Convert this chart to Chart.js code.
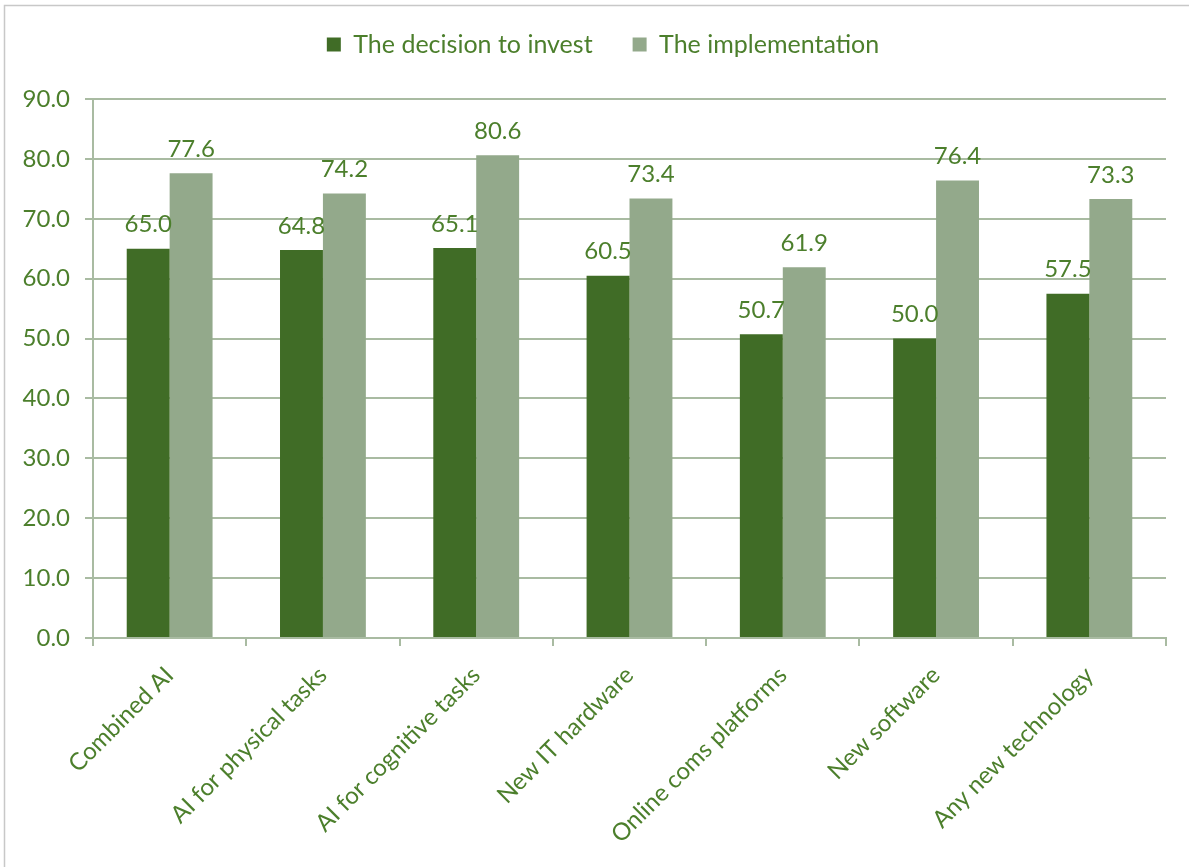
<!DOCTYPE html>
<html>
<head>
<meta charset="utf-8">
<title>Technology adoption</title>
<script src="https://cdn.jsdelivr.net/npm/chart.js@4/dist/chart.umd.min.js"></script>
<style>
  html, body { margin: 0; padding: 0; background: #ffffff; }
  #wrap { position: relative; width: 1189px; height: 867px; }
</style>
</head>
<body>
<div id="wrap"><canvas id="chart" width="1189" height="867"></canvas></div>
<script>
// Categories and the two series
const categories = [
  'Combined AI',
  'AI for physical tasks',
  'AI for cognitive tasks',
  'New IT hardware',
  'Online coms platforms',
  'New software',
  'Any new technology'
];
const decisionToInvest = [65.0, 64.8, 65.1, 60.5, 50.7, 50.0, 57.5];
const implementation   = [77.6, 74.2, 80.6, 73.4, 61.9, 76.4, 73.3];
const seriesNames = ['The decision to invest', 'The implementation'];

const TEXT = '#4c7f2c';
const DARK = '#406c26';
const LIGHT = '#93a98b';
const GRID = '#a9bba2';
const FONT = 'Lato, "Open Sans", sans-serif';
const FONT_SIZE = 24;
const LEGEND_SHIFT_Y = 16;
const LEGEND_SHIFT_X = 15;

// Value labels above each bar, legend placement tweaks,
// and a thin frame along the top/left edges
const chartDecor = {
  id: 'chartDecor',
  beforeInit(chart) {
    const legend = chart.legend;
    if (legend) {
      const fit = legend.fit;
      legend.fit = function () {
        fit.call(this);
        this.height += 16;
      };
    }
  },
  afterLayout(chart) {
    const legend = chart.legend;
    if (legend) {
      legend.top -= LEGEND_SHIFT_Y;
      legend.bottom -= LEGEND_SHIFT_Y;
      legend.left += LEGEND_SHIFT_X;
      legend.right += LEGEND_SHIFT_X;
    }
  },
  afterDatasetsDraw(chart) {
    const ctx = chart.ctx;
    ctx.save();
    ctx.fillStyle = TEXT;
    ctx.font = FONT_SIZE + 'px ' + FONT;
    ctx.textAlign = 'center';
    ctx.textBaseline = 'bottom';
    chart.data.datasets.forEach((ds, i) => {
      const meta = chart.getDatasetMeta(i);
      meta.data.forEach((bar, j) => {
        ctx.fillText(ds.data[j].toFixed(1), bar.x, bar.y - 12);
      });
    });
    ctx.restore();
  },
  afterDraw(chart) {
    const ctx = chart.ctx;
    ctx.save();
    ctx.strokeStyle = '#c8c8c8';
    ctx.lineWidth = 1.5;
    ctx.beginPath();
    ctx.moveTo(4.5, chart.height + 5);
    ctx.lineTo(4.5, 5.5);
    ctx.lineTo(chart.width + 5, 5.5);
    ctx.stroke();
    ctx.restore();
  }
};

new Chart(document.getElementById('chart'), {
  type: 'bar',
  data: {
    labels: categories,
    datasets: [
      { label: seriesNames[0], data: decisionToInvest, backgroundColor: DARK },
      { label: seriesNames[1], data: implementation, backgroundColor: LIGHT }
    ]
  },
  options: {
    responsive: false,
    animation: false,
    devicePixelRatio: 1,
    datasets: { bar: { categoryPercentage: 0.56, barPercentage: 1.0 } },
    layout: { padding: { top: 8, left: 10, right: 23, bottom: 8 } },
    plugins: {
      tooltip: { enabled: false },
      legend: {
        position: 'top',
        align: 'center',
        labels: {
          color: TEXT,
          font: { family: FONT, size: 25 },
          boxWidth: 14,
          boxHeight: 14,
          padding: 40
        }
      }
    },
    scales: {
      x: {
        grid: {
          display: true,
          drawOnChartArea: false,
          drawTicks: true,
          tickLength: 8,
          offset: true,
          color: GRID,
          lineWidth: 2
        },
        border: { display: true, color: GRID, width: 2 },
        ticks: {
          color: TEXT,
          font: { family: FONT, size: FONT_SIZE },
          minRotation: 45,
          maxRotation: 45,
          padding: 15,
          autoSkip: false
        },
        afterFit(scale) { scale.height = 221; }
      },
      y: {
        min: 0,
        max: 90,
        grid: {
          color: GRID,
          lineWidth: 2,
          drawTicks: true,
          tickLength: 8
        },
        border: { display: true, color: GRID, width: 2 },
        ticks: {
          stepSize: 10,
          color: TEXT,
          font: { family: FONT, size: FONT_SIZE },
          padding: 15,
          callback: (v) => Number(v).toFixed(1)
        },
        afterFit(scale) { scale.width = 83; }
      }
    }
  },
  plugins: [chartDecor]
});
</script>
</body>
</html>
